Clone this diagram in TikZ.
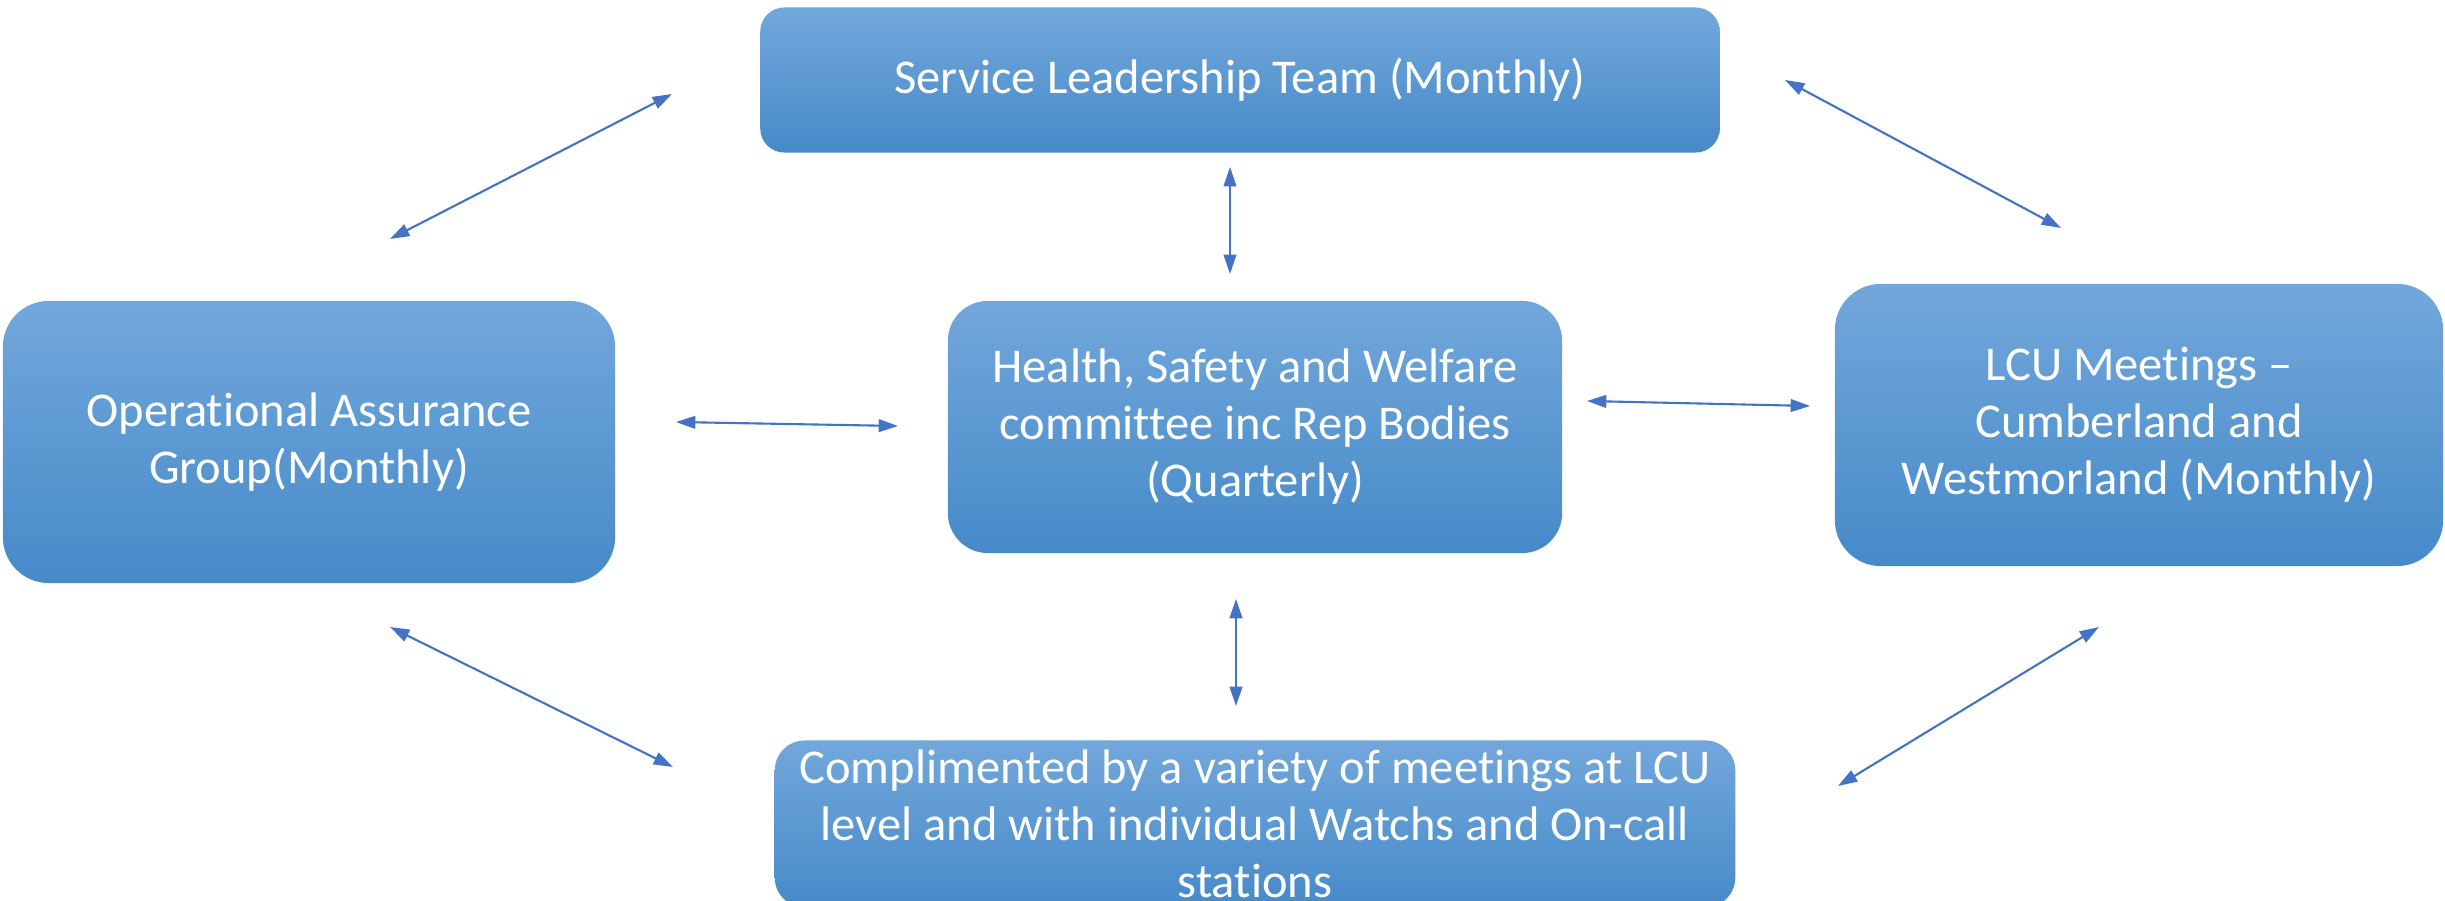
\documentclass[tikz,border=0pt]{standalone}
\usepackage{fontspec}
\setmainfont{Carlito}[Ligatures=NoCommon]
\usetikzlibrary{arrows.meta}
\definecolor{boxtop}{RGB}{114,167,219}
\definecolor{boxmid}{RGB}{86,153,216}
\definecolor{boxbot}{RGB}{70,138,201}
\definecolor{linkblue}{RGB}{68,114,196}
\tikzset{
  meeting/.style={top color=boxtop, middle color=boxmid, bottom color=boxbot, draw=none,
    text=white, align=center, inner sep=0pt, font=\fontsize{13.8}{16.2}\selectfont},
  link/.style={draw=linkblue, line width=0.6pt, {Triangle[length=5.5pt,width=3.6pt]}-{Triangle[length=5.5pt,width=3.6pt]}}
}
\begin{document}
\begin{tikzpicture}[x=0.01cm,y=-0.01cm]
\useasboundingbox (0,0) rectangle (2445,901);
\node[meeting, rounded corners=0.24cm, minimum width=9.59cm, minimum height=1.45cm] (slt) at (1240,80) {Service Leadership Team (Monthly)};
\node[meeting, rounded corners=0.46cm, minimum width=6.12cm, minimum height=2.82cm] (oag) at (309,442) {Operational Assurance\\Group(Monthly)};
\node[meeting, rounded corners=0.40cm, minimum width=6.14cm, minimum height=2.52cm] (hsw) at (1255,427) {Health, Safety and Welfare\\committee inc Rep Bodies\\(Quarterly)};
\node[meeting, rounded corners=0.46cm, minimum width=6.08cm, minimum height=2.82cm] (lcu) at (2139,425) {LCU Meetings --\\Cumberland and\\Westmorland (Monthly)};
\node[meeting, rounded corners=0.30cm, minimum width=9.60cm, minimum height=1.67cm] (watch) at (1255,824) {Complimented by a variety of meetings at LCU\\level and with individual Watchs and On-call\\stations};
% arrow ends
\coordinate (sltA) at (672,94);   \coordinate (oagA) at (390,239);
\coordinate (sltB) at (1785,80);  \coordinate (lcuA) at (2061,228);
\coordinate (oagB) at (390,627);  \coordinate (watchA) at (673,767);
\coordinate (lcuB) at (2099,627); \coordinate (watchB) at (1838,786);
\coordinate (oagC) at (676,422);  \coordinate (hswA) at (898,426);
\coordinate (hswB) at (1587,401); \coordinate (lcuC) at (1810,406);
\coordinate (sltC) at (1230,167); \coordinate (hswC) at (1230,274);
\coordinate (hswD) at (1236,599); \coordinate (watchC) at (1236,706);
\foreach \a/\b in {sltA/oagA,sltB/lcuA,oagB/watchA,lcuB/watchB,oagC/hswA,hswB/lcuC,sltC/hswC,hswD/watchC}{ \draw[link] (\a) -- (\b); }
\end{tikzpicture}
\end{document}
